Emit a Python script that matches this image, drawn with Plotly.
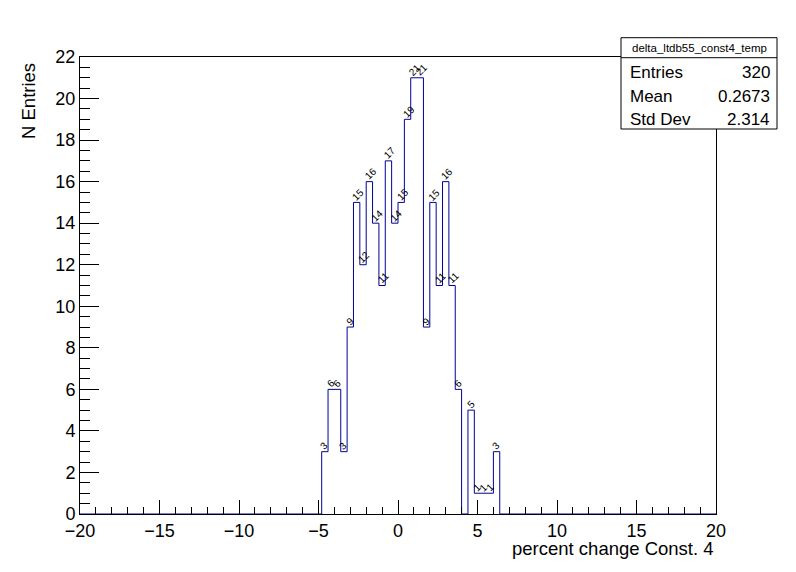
import numpy as np
import plotly.graph_objects as go

# ---- data ----
x_min, x_max, n_bins = -20.0, 20.0, 100
first_bin_low = -4.8
counts_nonzero = [3, 6, 6, 3, 9, 15, 12, 16, 14, 11, 17, 14, 15, 19, 21, 21,
                  9, 15, 11, 16, 11, 6, 0, 5, 1, 1, 1, 3]
x_tick_vals = [-20, -15, -10, -5, 0, 5, 10, 15, 20]
y_tick_vals = [0, 2, 4, 6, 8, 10, 12, 14, 16, 18, 20, 22]
stats_title = "delta_ltdb55_const4_temp"
stats_names = ["Entries", "Mean", "Std Dev"]
stats_values = ["320", "0.2673", "2.314"]
x_title = "percent change Const. 4"
y_title = "N Entries"

# ---- build histogram ----
width = (x_max - x_min) / n_bins
edges = np.linspace(x_min, x_max, n_bins + 1)
counts = np.zeros(n_bins)
i0 = int(round((first_bin_low - x_min) / width))
counts[i0:i0 + len(counts_nonzero)] = counts_nonzero
centers = (edges[:-1] + edges[1:]) / 2

xs = [edges[0]]
ys = [0]
for i in range(n_bins):
    xs += [edges[i], edges[i + 1]]
    ys += [counts[i], counts[i]]
xs.append(edges[-1])
ys.append(0)

LINE = "rgb(0,0,153)"
FONT = "Liberation Sans, Arial, Helvetica, sans-serif"

# page body has an 8px margin: plot area should sit at x 80..716, y 57..514
OFF = 8
ML, MR, MT, MB = 80 - OFF, 80, 57 - OFF, 58
FIG_W, FIG_H = 796 - OFF, 572 - OFF
PX0, PX1, PY0, PY1 = 80, 716, 57, 514
PW, PH = PX1 - PX0, PY1 - PY0


def px(xp):
    return (xp - PX0) / PW


def py(yp):
    return (PY1 - yp) / PH


fig = go.Figure()
fig.add_trace(go.Scatter(x=xs, y=ys, mode="lines",
                         line=dict(color=LINE, width=1),
                         hoverinfo="skip", showlegend=False))

annotations = []
lab_size = 10
for c, v in zip(centers, counts):
    if v <= 0:
        continue
    s = str(int(v))
    w = len(s) * 0.556 * lab_size
    h = 0.716 * lab_size
    xsft = (w / 2 - h / 2) * 0.707
    ysft = (w / 2 + h / 2) * 0.707 + 1.5
    annotations.append(dict(x=c, y=v, xref="x", yref="y", text=s,
                            showarrow=False, textangle=-45,
                            xanchor="center", yanchor="middle",
                            xshift=xsft, yshift=ysft,
                            font=dict(family=FONT, size=lab_size, color="black")))

annotations.append(dict(x=1.0, y=py(548), xref="paper", yref="paper", text=x_title,
                        showarrow=False, xanchor="right", yanchor="middle",
                        font=dict(family=FONT, size=18.5, color="black")))
annotations.append(dict(x=px(28), y=py(61), xref="paper", yref="paper", text=y_title,
                        showarrow=False, xanchor="center", yanchor="top", textangle=-90,
                        font=dict(family=FONT, size=18.5, color="black")))

bx0, bx1 = px(621), px(777)
by_top, by_sep, by_bot = py(37.7), py(57.7), py(129)
shapes = [
    dict(type="rect", xref="paper", yref="paper", x0=bx0, x1=bx1, y0=by_bot, y1=by_top,
         fillcolor="white", line=dict(color="black", width=1), layer="above"),
    dict(type="line", xref="paper", yref="paper", x0=bx0, x1=bx1, y0=by_sep, y1=by_sep,
         line=dict(color="black", width=1), layer="above"),
]
annotations.append(dict(x=(bx0 + bx1) / 2, y=py(48), xref="paper", yref="paper",
                        text=stats_title, showarrow=False, xanchor="center", yanchor="middle",
                        font=dict(family=FONT, size=11.5, color="black")))
row_y = [72.7, 96.0, 119.3]
for name, val, ry in zip(stats_names, stats_values, row_y):
    annotations.append(dict(x=px(628), y=py(ry), xref="paper", yref="paper",
                            text=name, showarrow=False, xanchor="left", yanchor="middle",
                            font=dict(family=FONT, size=17, color="black")))
    annotations.append(dict(x=px(772), y=py(ry), xref="paper", yref="paper",
                            text=val, showarrow=False, xanchor="right", yanchor="middle",
                            font=dict(family=FONT, size=17, color="black")))

fig.update_layout(
    width=FIG_W, height=FIG_H,
    margin=dict(l=ML, r=MR, t=MT, b=MB, pad=0),
    paper_bgcolor="white", plot_bgcolor="white",
    showlegend=False,
    font=dict(family=FONT, size=18, color="black"),
    annotations=annotations, shapes=shapes,
    xaxis=dict(range=[x_min, x_max], tickvals=x_tick_vals,
               ticks="inside", ticklen=14, tickcolor="black", tickwidth=1,
               minor=dict(dtick=1, tick0=0, ticks="inside", ticklen=7, tickcolor="black"),
               showline=True, linecolor="black", linewidth=1, mirror=True,
               showgrid=False, zeroline=False,
               tickfont=dict(family=FONT, size=18, color="black")),
    yaxis=dict(range=[0, 22], tickvals=y_tick_vals,
               ticks="inside", ticklen=19, tickcolor="black", tickwidth=1,
               minor=dict(dtick=0.5, tick0=0, ticks="inside", ticklen=10, tickcolor="black"),
               showline=True, linecolor="black", linewidth=1, mirror=True,
               showgrid=False, zeroline=False,
               tickfont=dict(family=FONT, size=18, color="black")),
)

fig.write_html("out.html")
